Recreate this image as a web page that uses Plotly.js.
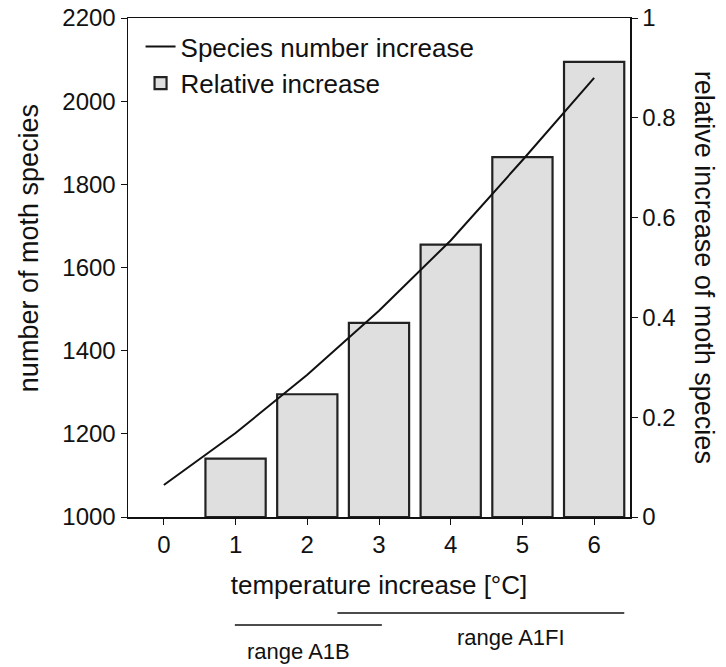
<!DOCTYPE html>
<html>
<head>
<meta charset="utf-8">
<script src="https://cdn.plot.ly/plotly-3.0.1.min.js"></script>
<style>html,body{margin:0;padding:0;background:#fff;}#chart{width:726px;height:667px;}</style>
</head>
<body>
<div id="chart"></div>
<script>
// Data
const lineX = [0, 1, 2, 3, 4, 5, 6];
const speciesNumber = [1077, 1202, 1342, 1496, 1665, 1858, 2056];
const barX = [1, 2, 3, 4, 5, 6];
const relativeIncrease = [0.117, 0.246, 0.389, 0.546, 0.721, 0.912];
const rangeNames = ["range A1B", "range A1FI"];
const rangeStart = [0.99, 2.42];
const rangeEnd = [3.04, 6.42];

const FONT = "Liberation Sans, Arial, sans-serif";
const INK = "#111";

const traces = [
  {
    x: lineX, y: speciesNumber, type: "scatter", mode: "lines",
    name: "Species number increase",
    legendgroup: "a",
    line: {color: INK, width: 2},
    yaxis: "y2"
  },
  {
    x: barX, y: relativeIncrease, type: "bar",
    name: "Relative increase",
    legendgroup: "b",
    width: 0.84,
    marker: {color: "#dfdfdf", line: {color: "#222", width: 2.2}},
    yaxis: "y"
  }
];

const shapes = [];
const annotations = [];
const rangeLineY = [-0.2164, -0.1924];
const rangeTextX = [1.88, 4.84];
const rangeTextY = [-0.2705, -0.2405];
for (let i = 0; i < rangeNames.length; i++) {
  shapes.push({type: "line", xref: "x", yref: "paper", x0: rangeStart[i], x1: rangeEnd[i],
    y0: rangeLineY[i], y1: rangeLineY[i], line: {color: INK, width: 1.5}});
  annotations.push({xref: "x", yref: "paper", x: rangeTextX[i], y: rangeTextY[i], text: rangeNames[i],
    showarrow: false, font: {family: FONT, size: 22, color: INK}, xanchor: "center", yanchor: "middle"});
}
annotations.push({xref: "paper", yref: "paper", x: 1.149, y: 0.5, text: "relative increase of moth species",
  showarrow: false, textangle: 90, font: {family: FONT, size: 27, color: INK},
  xanchor: "center", yanchor: "middle"});
annotations.push({xref: "paper", yref: "paper", x: -0.197, y: 0.539, text: "number of moth species",
  showarrow: false, textangle: -90, font: {family: FONT, size: 27, color: INK},
  xanchor: "center", yanchor: "middle"});

const layout = {
  width: 726, height: 667,
  margin: {l: 128, r: 96, t: 18, b: 150},
  paper_bgcolor: "#fff", plot_bgcolor: "rgba(0,0,0,0)",
  font: {family: FONT, size: 24, color: INK},
  showlegend: true,
  legend: {x: 0.025, y: 0.99, xanchor: "left", yanchor: "top", bgcolor: "rgba(0,0,0,0)",
    font: {family: FONT, size: 26, color: INK}, traceorder: "grouped", tracegroupgap: 0},
  xaxis: {
    range: [-0.5, 6.5], tickmode: "array", tickvals: lineX, ticktext: lineX.map(String),
    showgrid: false, zeroline: false, showline: true, linecolor: INK, linewidth: 1.5,
    mirror: true, ticks: "outside", ticklen: 6, tickcolor: INK, tickwidth: 1,
    tickfont: {family: FONT, size: 24, color: INK},
    title: {text: "temperature increase [°C]", font: {family: FONT, size: 26, color: INK}, standoff: 18}
  },
  yaxis: {
    range: [0, 1], dtick: 0.2, side: "right",
    showgrid: false, zeroline: false, showline: true, linecolor: INK, linewidth: 1.5,
    ticks: "outside", ticklen: 6, tickcolor: INK, tickwidth: 1,
    tickfont: {family: FONT, size: 24, color: INK}
  },
  yaxis2: {
    range: [1000, 2200], dtick: 200, overlaying: "y", side: "left",
    showgrid: false, zeroline: false, showline: true, linecolor: INK, linewidth: 1.5,
    ticks: "outside", ticklen: 6, tickcolor: INK, tickwidth: 1,
    tickfont: {family: FONT, size: 24, color: INK}
  },
  shapes: shapes,
  annotations: annotations
};

Plotly.newPlot("chart", traces, layout, {displayModeBar: false, staticPlot: true});
</script>
</body>
</html>
